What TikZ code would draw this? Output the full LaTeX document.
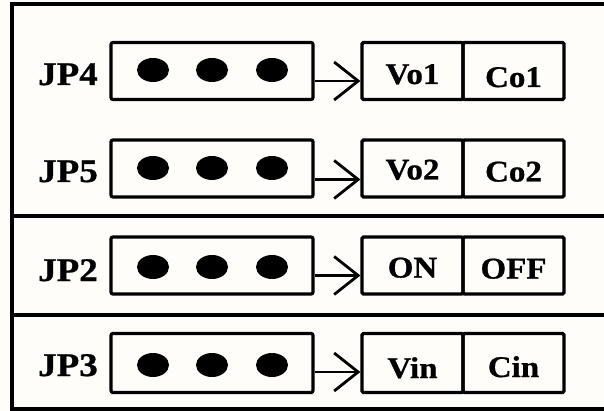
\documentclass[tikz,border=0pt]{standalone}
\usepackage{fontspec}
\setmainfont{Liberation Serif}[BoldFeatures={FakeBold=0.8}]
\usetikzlibrary{arrows.meta,shapes.geometric}
\definecolor{paper}{RGB}{254,253,250}
\begin{document}
\begin{tikzpicture}[x=1pt,y=-1pt,
  frameline/.style={line width=3.2pt},
  jumper/.style={draw,line width=3.2pt,rounded corners=2pt,minimum width=202pt,minimum height=57pt,inner sep=0pt},
  cell/.style={draw,line width=3.2pt,rounded corners=1.5pt,minimum width=101pt,minimum height=57pt,inner sep=0pt,
    text height=30pt,text depth=4pt,font=\fontsize{30}{30}\selectfont\bfseries},
  pin/.style={ellipse,fill=black,minimum width=32pt,minimum height=24pt,inner sep=0pt},
  tag/.style={anchor=base,inner sep=0pt,font=\fontsize{33}{33}\selectfont\bfseries},
  feed/.style={line width=2.8pt,-{Straight Barb[length=24pt,width=38pt]}}
]
\useasboundingbox[fill=paper] (0,0) rectangle (604,411);

% outer frame and section dividers
\draw[frameline] (607,4) -| (12,409) -- (607,409);
\draw[frameline] (12,216) -- (607,216);
\draw[frameline] (12,315) -- (607,315);

% row JP4
\node[tag] (t4) at (68,85) {\scalebox{1.12}[1]{JP4}};
\node[jumper] (j4) at (212,71) {};
\node[pin] (p4a) at (153,70) {};
\node[pin] (p4b) at (212,70) {};
\node[pin] (p4c) at (272,70) {};
\node[cell] (c4a) at (412.5,71) {\scalebox{1.1}[1]{Vo1}};
\node[cell] (c4b) at (513.5,71) {\raisebox{-3pt}{\scalebox{1.1}[1]{Co1}}};
\draw[feed] ([yshift=-10pt]j4.east) -- ([yshift=-10pt]c4a.west);

% row JP5
\node[tag] (t5) at (68,182) {\scalebox{1.12}[1]{JP5}};
\node[jumper] (j5) at (212,168.5) {};
\node[pin] (p5a) at (153,168) {};
\node[pin] (p5b) at (212,168) {};
\node[pin] (p5c) at (272,168) {};
\node[cell] (c5a) at (412.5,168.5) {\raisebox{2pt}{\scalebox{1.1}[1]{Vo2}}};
\node[cell] (c5b) at (513.5,168.5) {\scalebox{1.1}[1]{Co2}};
\draw[feed] ([yshift=-11pt]j5.east) -- ([yshift=-11pt]c5a.west);

% row JP2
\node[tag] (t2) at (68,281) {\scalebox{1.12}[1]{JP2}};
\node[jumper] (j2) at (212,265.5) {};
\node[pin] (p2a) at (153,267) {};
\node[pin] (p2b) at (212,267) {};
\node[pin] (p2c) at (272,267) {};
\node[cell] (c2a) at (412.5,265.5) {\raisebox{1pt}{\scalebox{1.1}[1]{ON}}};
\node[cell] (c2b) at (513.5,265.5) {\scalebox{1.1}[1]{OFF}};
\draw[feed] ([yshift=-10pt]j2.east) -- ([yshift=-10pt]c2a.west);

% row JP3
\node[tag] (t3) at (68,376) {\scalebox{1.12}[1]{JP3}};
\node[jumper,minimum height=59pt] (j3) at (212,363) {};
\node[pin] (p3a) at (153,365) {};
\node[pin] (p3b) at (212,365) {};
\node[pin] (p3c) at (272,365) {};
\node[cell,minimum height=59pt] (c3a) at (412.5,363) {\raisebox{-2pt}{\scalebox{1.1}[1]{Vin}}};
\node[cell,minimum height=59pt] (c3b) at (513.5,363) {\raisebox{-1pt}{\scalebox{1.1}[1]{Cin}}};
\draw[feed] ([yshift=-9pt]j3.east) -- ([yshift=-9pt]c3a.west);
\end{tikzpicture}
\end{document}
